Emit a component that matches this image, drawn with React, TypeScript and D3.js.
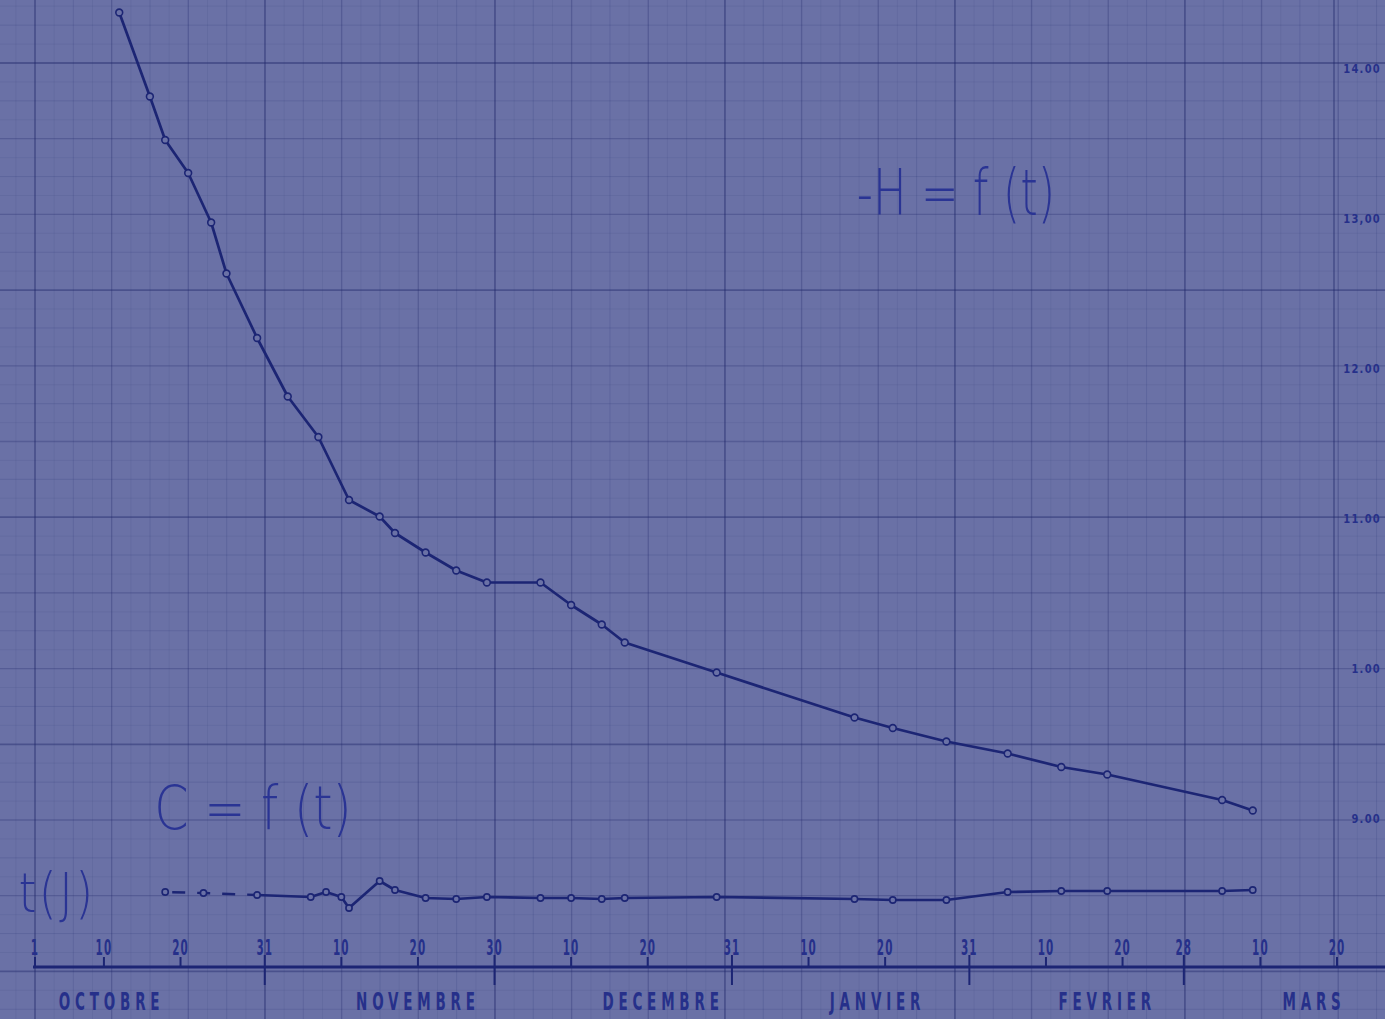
import React from "react";
import * as d3 from "d3";

// ---- data ----
const H_DATES = [
  "1961-10-12", "1961-10-16", "1961-10-18", "1961-10-21", "1961-10-24", "1961-10-26", "1961-10-30",
  "1961-11-03", "1961-11-07", "1961-11-11", "1961-11-15", "1961-11-17", "1961-11-21", "1961-11-25", "1961-11-29",
  "1961-12-06", "1961-12-10", "1961-12-14", "1961-12-17", "1961-12-29",
  "1962-01-16", "1962-01-21", "1962-01-28",
  "1962-02-05", "1962-02-12", "1962-02-18",
  "1962-03-05", "1962-03-09",
];
const H_VALUES = [
  14.37, 13.81, 13.52, 13.3, 12.97, 12.63, 12.2,
  11.81, 11.54, 11.12, 11.01, 10.9, 10.77, 10.65, 10.57,
  10.57, 10.42, 10.29, 10.17, 9.97,
  9.67, 9.6, 9.51,
  9.43, 9.34, 9.29,
  9.12, 9.05,
];
const C_DATES = [
  "1961-10-18", "1961-10-23", "1961-10-30",
  "1961-11-06", "1961-11-08", "1961-11-10", "1961-11-11", "1961-11-15", "1961-11-17", "1961-11-21", "1961-11-25", "1961-11-29",
  "1961-12-06", "1961-12-10", "1961-12-14", "1961-12-17", "1961-12-29",
  "1962-01-16", "1962-01-21", "1962-01-28",
  "1962-02-05", "1962-02-12", "1962-02-18",
  "1962-03-05", "1962-03-09",
];
const C_VALUES = [
  3.8, 3.7, 3.5,
  3.3, 3.8, 3.3, 2.2, 4.9, 4.0, 3.2, 3.1, 3.3,
  3.2, 3.2, 3.1, 3.2, 3.3,
  3.1, 3.0, 3.0,
  3.8, 3.9, 3.9,
  3.9, 4.0,
];
const C_DASHED_COUNT = 3; // first points joined by a dashed line

const TICK_DATES = [
  "1961-10-01", "1961-10-10", "1961-10-20", "1961-10-31",
  "1961-11-10", "1961-11-20", "1961-11-30",
  "1961-12-10", "1961-12-20", "1961-12-31",
  "1962-01-10", "1962-01-20", "1962-01-31",
  "1962-02-10", "1962-02-20", "1962-02-28",
  "1962-03-10", "1962-03-20",
];
const TICK_LABELS = ["1", "10", "20", "31", "10", "20", "30", "10", "20", "31", "10", "20", "31", "10", "20", "28", "10", "20"];
const MONTH_ENDS = ["1961-10-31", "1961-11-30", "1961-12-31", "1962-01-31", "1962-02-28"];
const MONTH_NAMES = ["OCTOBRE", "NOVEMBRE", "DECEMBRE", "JANVIER", "FEVRIER", "MARS"];
const MONTH_LABEL_DATES = ["1961-10-11", "1961-11-20", "1961-12-22", "1962-01-19", "1962-02-18", "1962-03-17"];
const H_TICKS = [14, 13, 12, 11, 10, 9];
const H_TICK_LABELS = ["14.00", "13,00", "12.00", "11.00", "1.00", "9.00"];

// ---- styling ----
const W = 1385;
const H = 1019;
const BG = "#6a71a6";
const INK = "#1c2574";
const TEXT_INK = "#26308a";
const COND = "'DejaVu Sans Condensed', 'Liberation Sans Narrow', 'DejaVu Sans', sans-serif";
const HAND = "'DejaVu Sans ExtraLight', 'DejaVu Sans Light', Inter, 'Open Sans', sans-serif";

const parse = d3.utcParse("%Y-%m-%d");

export default function App() {
  const x = d3
    .scaleUtc()
    .domain([parse("1961-10-01") as Date, parse("1962-03-20") as Date])
    .range([35, 1337]);
  const yH = d3.scaleLinear().domain([9, 14]).range([818, 68]);
  const yC = d3.scaleLinear().domain([0, 10]).range([930, 830]);
  const axisY = 967;

  const hData = H_DATES.map((d, i) => ({ d: parse(d) as Date, v: H_VALUES[i] }));
  const cData = C_DATES.map((d, i) => ({ d: parse(d) as Date, v: C_VALUES[i] }));

  const lineH = d3.line<{ d: Date; v: number }>().x((p) => x(p.d)).y((p) => yH(p.v));
  const lineC = d3.line<{ d: Date; v: number }>().x((p) => x(p.d)).y((p) => yC(p.v));

  // graph paper
  const gx0 = 35, gdx = 38.33, gy0 = 63, gdy = 37.85;
  const vLines = d3.range(-1, 37).map((k) => ({ pos: gx0 + k * gdx, k }));
  const hLines = d3.range(-2, 27).map((k) => ({ pos: gy0 + k * gdy, k }));
  const gStyle = (k: number) => {
    const m = ((k % 6) + 6) % 6;
    if (m === 0) return { stroke: "rgba(30,38,105,0.42)", sw: 1.8 };
    if (m % 2 === 0) return { stroke: "rgba(30,38,105,0.27)", sw: 1.3 };
    return { stroke: "rgba(30,38,105,0.15)", sw: 1 };
  };
  const monthEndSet = new Set(MONTH_ENDS);

  return (
    <svg
      width={W}
      height={H}
      style={{ position: "absolute", left: 0, top: 0, display: "block", background: BG }}
    >
      <rect x={0} y={0} width={W} height={H} fill={BG} />
      {/* fine half-cm lines */}
      <g>
        {vLines.map((l) => (
          <line key={"hv" + l.k} x1={l.pos + gdx / 2} x2={l.pos + gdx / 2} y1={0} y2={H} stroke="rgba(30,38,105,0.07)" strokeWidth={1} />
        ))}
        {hLines.map((l) => (
          <line key={"hh" + l.k} y1={l.pos + gdy / 2} y2={l.pos + gdy / 2} x1={0} x2={W} stroke="rgba(30,38,105,0.07)" strokeWidth={1} />
        ))}
      </g>
      <g>
        {vLines.map((l) => {
          const s = gStyle(l.k);
          return <line key={"v" + l.k} x1={l.pos} x2={l.pos} y1={0} y2={H} stroke={s.stroke} strokeWidth={s.sw} />;
        })}
        {hLines.map((l) => {
          const s = gStyle(l.k - 6);
          return <line key={"h" + l.k} y1={l.pos} y2={l.pos} x1={0} x2={W} stroke={s.stroke} strokeWidth={s.sw} />;
        })}
      </g>

      {/* right value axis */}
      <line x1={1334} x2={1334} y1={0} y2={axisY} stroke="rgba(30,38,105,0.4)" strokeWidth={1.8} />
      <g fontFamily={COND} fontWeight="bold" fontSize={13} fill={TEXT_INK}>
        {H_TICKS.map((t, i) => (
          <text
            key={"rt" + t}
            transform={`translate(1381,${yH(t)}) scale(0.85,1)`}
            textAnchor="end"
            dy="0.35em"
            letterSpacing={1.5}
          >
            {H_TICK_LABELS[i]}
          </text>
        ))}
      </g>

      {/* H curve */}
      <path d={lineH(hData) || ""} fill="none" stroke={INK} strokeWidth={2.7} strokeLinejoin="round" />
      {hData.map((p, i) => (
        <circle key={"hc" + i} cx={x(p.d)} cy={yH(p.v)} r={3.4} fill={BG} stroke={INK} strokeWidth={1.6} />
      ))}

      {/* C curve */}
      <path
        d={lineC(cData.slice(0, C_DASHED_COUNT)) || ""}
        fill="none"
        stroke={INK}
        strokeWidth={2.4}
        strokeDasharray="13 12"
        strokeDashoffset={-7}
      />
      <path d={lineC(cData.slice(C_DASHED_COUNT - 1)) || ""} fill="none" stroke={INK} strokeWidth={2.7} strokeLinejoin="round" />
      {cData.map((p, i) => (
        <circle key={"cc" + i} cx={x(p.d)} cy={yC(p.v)} r={3.1} fill={BG} stroke={INK} strokeWidth={1.6} />
      ))}

      {/* time axis */}
      <line x1={33} x2={W} y1={axisY} y2={axisY} stroke={INK} strokeWidth={3} />
      {TICK_DATES.map((d, i) => {
        const xx = x(parse(d) as Date);
        const long = monthEndSet.has(d);
        return (
          <line
            key={"tk" + i}
            x1={xx}
            x2={xx}
            y1={long ? axisY - 12 : axisY - 10}
            y2={long ? axisY + 18 : axisY}
            stroke={INK}
            strokeWidth={2}
          />
        );
      })}
      <g fontFamily={COND} fontWeight="bold" fontSize={21} fill={TEXT_INK}>
        {TICK_DATES.map((d, i) => (
          <text
            key={"tl" + i}
            transform={`translate(${x(parse(d) as Date)},${axisY - 12}) scale(0.55,1)`}
            textAnchor="middle"
            letterSpacing={2}
          >
            {TICK_LABELS[i]}
          </text>
        ))}
      </g>
      <g fontFamily={COND} fontWeight="bold" fontSize={25} fill={TEXT_INK}>
        {MONTH_NAMES.map((m, i) => (
          <text
            key={"mn" + m}
            transform={`translate(${x(parse(MONTH_LABEL_DATES[i]) as Date)},${1010}) scale(0.6,1)`}
            textAnchor="middle"
            letterSpacing={8}
          >
            {m}
          </text>
        ))}
      </g>

      {/* hand-lettered annotations */}
      <g fontFamily={HAND} fontWeight={200} fill="#2a3494">
        <text transform="translate(956,215) scale(0.7,1)" fontSize={64} textAnchor="middle">
          -H = f (t)
        </text>
        <text transform="translate(253,829) scale(0.82,1)" fontSize={60} textAnchor="middle">
          C = f (t)
        </text>
        <text transform="translate(57,912) scale(0.82,1)" fontSize={56} textAnchor="middle" letterSpacing={3}>
          t(J)
        </text>
      </g>
    </svg>
  );
}
